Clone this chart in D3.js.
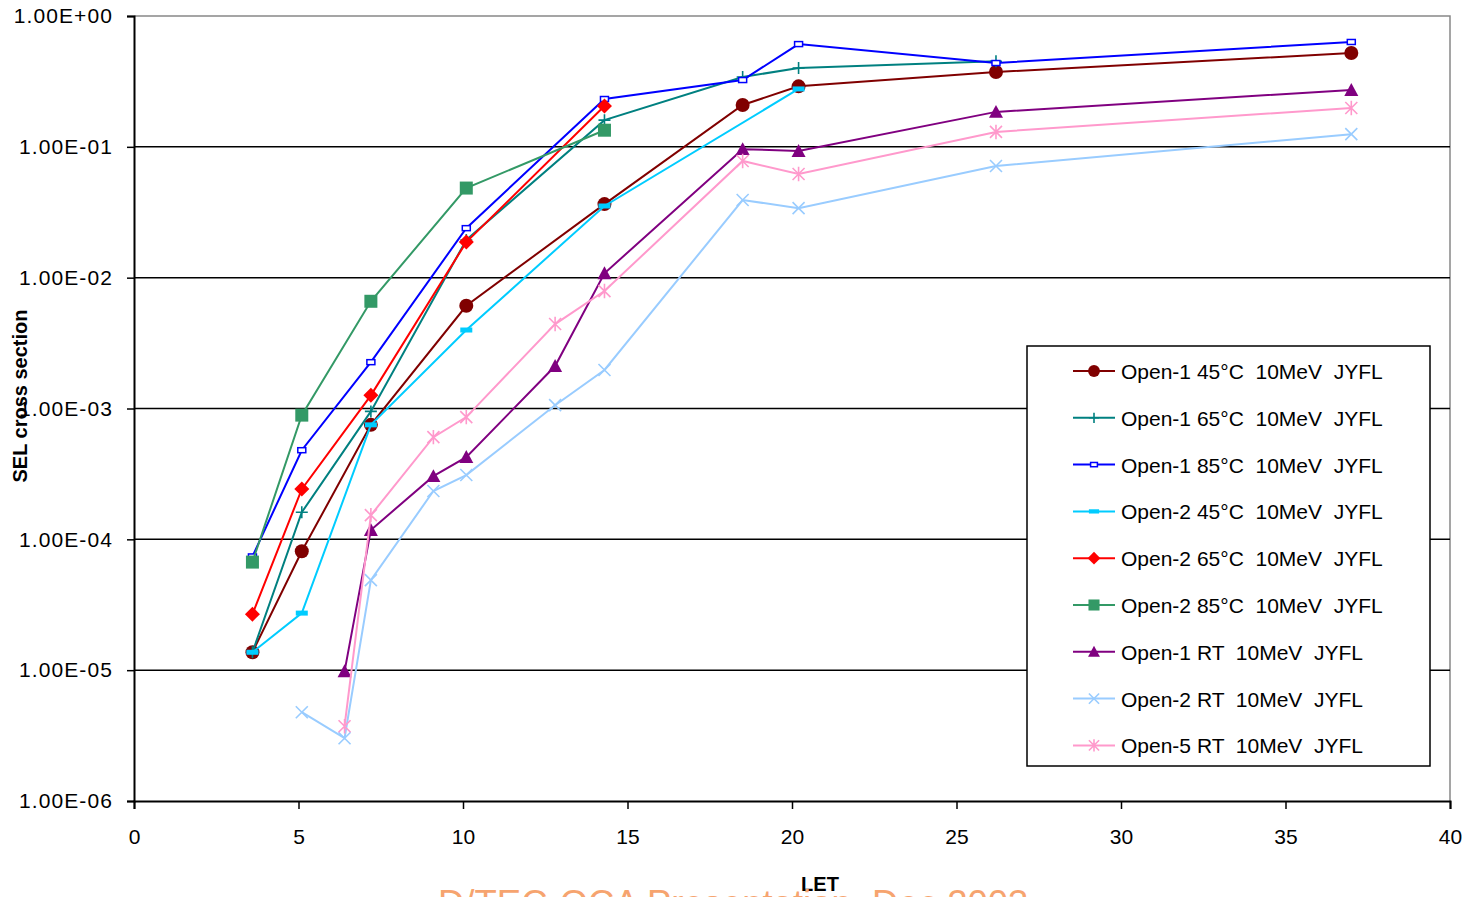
<!DOCTYPE html>
<html>
<head>
<meta charset="utf-8">
<script src="https://cdn.jsdelivr.net/npm/d3@7"></script>
<style>
  body { margin: 0; background: #fff; }
  svg { display: block; font-family: "Liberation Sans", Arial, sans-serif; }
</style>
</head>
<body>
<svg id="chart"></svg>
<script>
const width = 1475,
      height = 897;

// LET values (x) shared by all series; null = no measurement
const letValues = [3.6, 5.1, 6.4, 7.2, 9.1, 10.1, 12.8, 14.3, 18.5, 20.2, 26.2, 37.0];

const open1_45 = [1.37e-5, 8.1e-5, null, 7.5e-4, null, 6.1e-3, null, 3.65e-2, 0.209, 0.29, 0.373, 0.521];
const open1_65 = [1.37e-5, 1.61e-4, null, 9.5e-4, null, 1.94e-2, null, 0.16, 0.342, 0.40, 0.45, null];
const open1_85 = [7.4e-5, 4.8e-4, null, 2.26e-3, null, 2.39e-2, null, 0.232, 0.324, 0.61, 0.437, 0.633];
const open2_45 = [1.37e-5, 2.73e-5, null, 7.5e-4, null, 3.98e-3, null, 3.53e-2, null, 0.277, null, null];
const open2_65 = [2.68e-5, 2.42e-4, null, 1.26e-3, null, 1.87e-2, null, 0.205, null, null, null, null];
const open2_85 = [6.7e-5, 8.9e-4, null, 6.6e-3, null, 4.84e-2, null, 0.134, null, null, null, null];
const open1_rt = [null, null, 9.8e-6, 1.18e-4, 3.04e-4, 4.25e-4, 2.11e-3, 1.08e-2, 9.6e-2, 9.3e-2, 0.185, 0.272];
const open2_rt = [null, 4.77e-6, 3.02e-6, 4.88e-5, 2.34e-4, 3.10e-4, 1.06e-3, 1.97e-3, 3.92e-2, 3.40e-2, 7.13e-2, 0.125];
const open5_rt = [null, null, 3.73e-6, 1.53e-4, 6.04e-4, 8.6e-4, 4.42e-3, 7.9e-3, 7.8e-2, 6.2e-2, 0.13, 0.198];

const seriesNames = [
  "Open-1 45°C  10MeV  JYFL",
  "Open-1 65°C  10MeV  JYFL",
  "Open-1 85°C  10MeV  JYFL",
  "Open-2 45°C  10MeV  JYFL",
  "Open-2 65°C  10MeV  JYFL",
  "Open-2 85°C  10MeV  JYFL",
  "Open-1 RT  10MeV  JYFL",
  "Open-2 RT  10MeV  JYFL",
  "Open-5 RT  10MeV  JYFL"
];
const seriesValues = [open1_45, open1_65, open1_85, open2_45, open2_65, open2_85, open1_rt, open2_rt, open5_rt];
const seriesColors = ["#800000", "#008080", "#0000ff", "#00ccff", "#ff0000", "#339966", "#800080", "#99ccff", "#ff99cc"];
const seriesMarkers = ["circle", "plus", "dashSmall", "dashWide", "diamond", "square", "triangle", "cross", "star"];

const xTicks = [0, 5, 10, 15, 20, 25, 30, 35, 40];
const yTicks = [1e-6, 1e-5, 1e-4, 1e-3, 1e-2, 1e-1, 1];

const svg = d3.select("#chart")
  .attr("width", width)
  .attr("height", height);

const x = d3.scaleLinear().domain([0, 40]).range([134, 1450]);
const y = d3.scaleLog().domain([1e-6, 1]).range([801, 16]);

function sciFormat(d) {
  const e = Math.round(Math.log10(d));
  return "1.00E" + (e >= 0 ? "+" : "-") + String(Math.abs(e)).padStart(2, "0");
}

// plot area border (grey top / right)
svg.append("path")
  .attr("d", `M${x(0)},${y(1)}H${x(40)}V${y(1e-6)}`)
  .attr("fill", "none")
  .attr("stroke", "#888")
  .attr("stroke-width", 1.5);

// gridlines
svg.append("g")
  .selectAll("line")
  .data(yTicks.filter(d => d > 1e-6 && d < 1))
  .join("line")
  .attr("x1", x(0))
  .attr("x2", x(40))
  .attr("y1", d => y(d))
  .attr("y2", d => y(d))
  .attr("stroke", "#000")
  .attr("stroke-width", 1.5);

// axes
const yAxis = svg.append("g")
  .attr("transform", `translate(${x(0)},0)`)
  .call(d3.axisLeft(y).tickValues(yTicks).tickFormat(sciFormat).tickSize(7).tickPadding(14));
yAxis.select(".domain").attr("stroke", "#000").attr("stroke-width", 2);
yAxis.selectAll(".tick line").attr("stroke", "#000").attr("stroke-width", 1.5);
yAxis.selectAll(".tick text")
  .attr("font-size", 21)
  .attr("letter-spacing", "1.1px")
  .attr("fill", "#000")
  .attr("font-family", "Liberation Sans, Arial, sans-serif");

const xAxis = svg.append("g")
  .attr("transform", `translate(0,${y(1e-6)})`)
  .call(d3.axisBottom(x).tickValues(xTicks).tickFormat(d3.format("d")).tickSize(8).tickPadding(20));
xAxis.select(".domain").attr("stroke", "#000").attr("stroke-width", 2);
xAxis.selectAll(".tick line").attr("stroke", "#000").attr("stroke-width", 1.5);
xAxis.selectAll(".tick text")
  .attr("font-size", 21)
  .attr("fill", "#000")
  .attr("font-family", "Liberation Sans, Arial, sans-serif");

// axis titles
svg.append("text")
  .attr("x", 820)
  .attr("y", 891)
  .attr("text-anchor", "middle")
  .attr("font-size", 20)
  .attr("font-weight", "bold")
  .text("LET");

svg.append("text")
  .attr("transform", "translate(27,396) rotate(-90)")
  .attr("text-anchor", "middle")
  .attr("font-size", 20)
  .attr("font-weight", "bold")
  .text("SEL cross section");

// marker drawing
function drawMarker(g, type, color, s) {
  const k = s || 1;
  if (type === "circle") {
    g.append("circle").attr("r", 7 * k).attr("fill", color);
  } else if (type === "square") {
    g.append("rect").attr("x", -6.5 * k).attr("y", -6.5 * k)
      .attr("width", 13 * k).attr("height", 13 * k).attr("fill", color);
  } else if (type === "diamond") {
    const r = 7.5 * k;
    g.append("path").attr("d", `M0,${-r}L${r},0L0,${r}L${-r},0Z`).attr("fill", color);
  } else if (type === "triangle") {
    const r = 7 * k;
    g.append("path").attr("d", `M0,${-r}L${r},${r * 0.85}L${-r},${r * 0.85}Z`).attr("fill", color);
  } else if (type === "plus") {
    const r = 6 * k;
    g.append("path").attr("d", `M${-r},0H${r}M0,${-r}V${r}`)
      .attr("stroke", color).attr("stroke-width", 1.6).attr("fill", "none");
  } else if (type === "cross") {
    const r = 6 * k;
    g.append("path").attr("d", `M${-r},${-r}L${r},${r}M${-r},${r}L${r},${-r}`)
      .attr("stroke", color).attr("stroke-width", 1.6).attr("fill", "none");
  } else if (type === "star") {
    const r = 6 * k;
    g.append("path").attr("d", `M${-r},${-r}L${r},${r}M${-r},${r}L${r},${-r}M0,${-r * 1.2}V${r * 1.2}`)
      .attr("stroke", color).attr("stroke-width", 1.6).attr("fill", "none");
  } else if (type === "dashSmall") {
    g.append("rect").attr("x", -4 * k).attr("y", -2.5 * k)
      .attr("width", 8 * k).attr("height", 5 * k)
      .attr("fill", "#fff").attr("stroke", color).attr("stroke-width", 1.5);
  } else if (type === "dashWide") {
    g.append("rect").attr("x", -6 * k).attr("y", -2.5 * k)
      .attr("width", 12 * k).attr("height", 5 * k).attr("fill", color);
  }
}

const line = d3.line()
  .x(d => x(d[0]))
  .y(d => y(d[1]));

seriesValues.forEach((vals, i) => {
  const pts = letValues.map((l, j) => [l, vals[j]]).filter(d => d[1] != null);
  const g = svg.append("g").attr("class", "series");
  g.append("path")
    .datum(pts)
    .attr("d", line)
    .attr("fill", "none")
    .attr("stroke", seriesColors[i])
    .attr("stroke-width", 2);
  g.selectAll("g.pt")
    .data(pts)
    .join("g")
    .attr("class", "pt")
    .attr("transform", d => `translate(${x(d[0])},${y(d[1])})`)
    .each(function() { drawMarker(d3.select(this), seriesMarkers[i], seriesColors[i], 1); });
});

// legend
const legend = svg.append("g");
legend.append("rect")
  .attr("x", 1027).attr("y", 346)
  .attr("width", 403).attr("height", 420)
  .attr("fill", "#fff")
  .attr("stroke", "#000")
  .attr("stroke-width", 1.5);

seriesNames.forEach((name, i) => {
  const ly = 371 + i * 46.8;
  const item = legend.append("g").attr("transform", `translate(0,${ly})`);
  item.append("line")
    .attr("x1", 1073).attr("x2", 1115)
    .attr("stroke", seriesColors[i]).attr("stroke-width", 2);
  drawMarker(item.append("g").attr("transform", "translate(1094,0)"), seriesMarkers[i], seriesColors[i], 0.85);
  item.append("text")
    .attr("x", 1121)
    .attr("y", 8)
    .attr("font-size", 21)
    .attr("fill", "#000")
    .style("white-space", "pre")
    .attr("xml:space", "preserve")
    .text(name);
});

// footer text, cut off by the page edge
svg.append("text")
  .attr("x", 438)
  .attr("y", 916)
  .attr("font-size", 36.5)
  .attr("fill", "#f6a46f")
  .text("D/TEC-QCA Presentation, Dec 2003");
</script>
</body>
</html>
